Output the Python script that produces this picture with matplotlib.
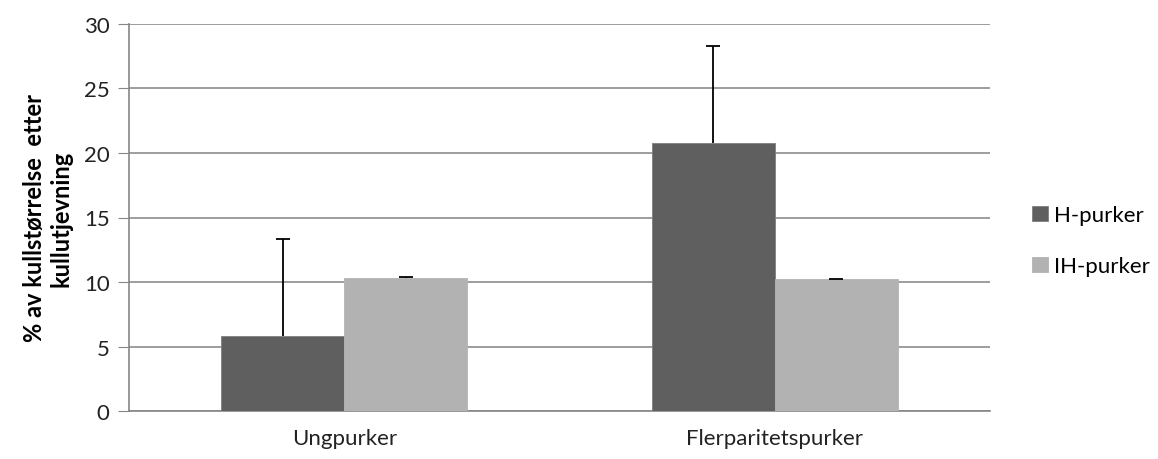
import numpy as np
import matplotlib
matplotlib.use("Agg")
import matplotlib.pyplot as plt

# data
categories = ["Ungpurker", "Flerparitetspurker"]
series_names = ["H-purker", "IH-purker"]
h_values = [5.8, 20.8]
h_err = [7.5, 7.5]
ih_values = [10.3, 10.2]
ih_err = [0.1, 0.05]

plt.rcParams['font.family'] = ['Lato', 'DejaVu Sans']
FS = 16

fig = plt.figure(figsize=(11.58, 4.6), dpi=100)
ax = fig.add_axes([0.1114, 0.1043, 0.7435, 0.8414])

x = np.arange(len(categories))
w = 0.286
ax.bar(x - w / 2, h_values, w, color="#5f5f5f", edgecolor="#7f7f7f", linewidth=0.6,
       label=series_names[0], zorder=3)
ax.bar(x + w / 2, ih_values, w, color="#b2b2b2", edgecolor="#b2b2b2", linewidth=0.6,
       label=series_names[1], zorder=3)

# only the upper half of each error bar, with a cap on top
for xs, vals, errs in [(x - w / 2, h_values, h_err), (x + w / 2, ih_values, ih_err)]:
    eb = ax.errorbar(xs, vals, yerr=[np.zeros(len(vals)), errs], fmt="none", ecolor="black",
                     elinewidth=1.3, capsize=5, capthick=1.3, zorder=4)
    caps = eb[1]
    if len(caps) == 2:
        caps[0].remove()

ax.set_xlim(-0.5, 1.5)
ax.set_ylim(0, 30)
ax.set_yticks(range(0, 31, 5))
ax.set_xticks(x)
ax.set_xticklabels(categories)
ax.tick_params(axis="y", length=8, color="#868686", labelsize=FS, pad=6, labelcolor="#222222")
ax.tick_params(axis="x", length=0, labelsize=FS, pad=12, labelcolor="#222222")
ax.yaxis.grid(True, color="#8c8c8c", linewidth=1.2, zorder=0)
for s in ["top", "right"]:
    ax.spines[s].set_visible(False)
ax.spines["left"].set_color("#868686")
ax.spines["bottom"].set_color("#868686")
ax.spines["left"].set_linewidth(1.2)
ax.spines["bottom"].set_linewidth(1.2)

ax.set_ylabel("% av kullstørrelse  etter\nkullutjevning", fontsize=17, fontweight="bold",
              labelpad=8, linespacing=1.2)

ax.legend(loc="center left", bbox_to_anchor=(1.049, 0.44), frameon=False, fontsize=FS,
          borderpad=0, borderaxespad=0,
          handlelength=0.7, handleheight=0.7, handletextpad=0.3, labelspacing=1.4)

fig.savefig("out.png", dpi=100)
